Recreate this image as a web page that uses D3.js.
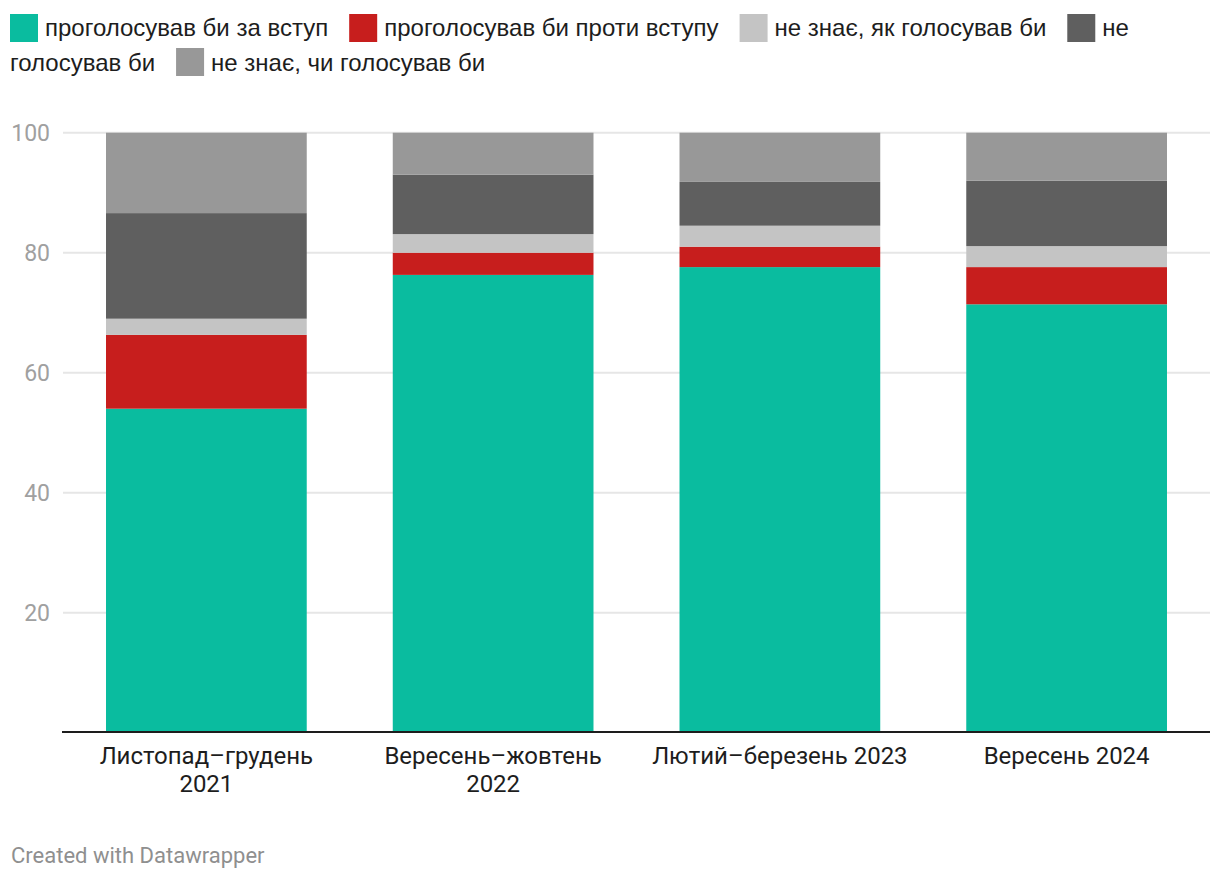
<!DOCTYPE html>
<html><head><meta charset="utf-8">
<script src="https://cdn.jsdelivr.net/npm/d3@7"></script>
<style>
html,body{margin:0;padding:0;background:#fff;}
svg{display:block;font-family:Roboto,"Noto Sans",sans-serif;}
</style></head>
<body>
<svg id="chart" width="1220" height="882"></svg>
<script>
const categories = [["Листопад–грудень","2021"],["Вересень–жовтень","2022"],["Лютий–березень 2023"],["Вересень 2024"]];
const seriesNames = ["проголосував би за вступ","проголосував би проти вступу","не знає, як голосував би","не голосував би","не знає, чи голосував би"];
const seriesColors = ["#0abc9f","#c71e1d","#c4c4c4","#5f5f5f","#989898"];
const forJoin = [54.0, 76.3, 77.6, 71.4];
const against = [12.3, 3.7, 3.4, 6.2];
const dontKnowHow = [2.7, 3.1, 3.5, 3.5];
const wouldNotVote = [17.6, 9.9, 7.3, 10.9];
const dontKnowIf = [13.4, 7.0, 8.2, 8.0];
const yTicks = [20, 40, 60, 80, 100];

const seriesValues = [forJoin, against, dontKnowHow, wouldNotVote, dontKnowIf];
const keys = seriesNames;
const rows = categories.map((c, i) => {
  const r = {cat: i};
  keys.forEach((k, j) => r[k] = seriesValues[j][i]);
  return r;
});

const svg = d3.select("#chart");
const x = d3.scaleBand().domain(d3.range(categories.length)).range([63, 1210]).paddingInner(0.3).paddingOuter(0.15);
const y = d3.scaleLinear().domain([0, 100]).range([732.7, 132.7]);

// gridlines
svg.append("g").selectAll("line").data(yTicks).join("line")
  .attr("x1", 63).attr("x2", 1210)
  .attr("y1", d => y(d)).attr("y2", d => y(d))
  .attr("stroke", "#e6e6e6").attr("stroke-width", 2);

svg.append("g").selectAll("text").data(yTicks).join("text")
  .attr("x", 50).attr("y", d => y(d)).attr("dy", "0.36em")
  .attr("text-anchor", "end").attr("fill", "#a0a0a0").attr("font-size", 23)
  .text(d => d);

// bars
const stacked = d3.stack().keys(keys)(rows);
svg.append("g").selectAll("g").data(stacked).join("g")
  .attr("fill", (d, i) => seriesColors[i])
  .selectAll("rect").data(d => d).join("rect")
  .attr("x", d => x(d.data.cat)).attr("width", x.bandwidth())
  .attr("y", d => y(d[1])).attr("height", d => y(d[0]) - y(d[1]));

// baseline
svg.append("line").attr("x1", 62).attr("x2", 1210).attr("y1", 732).attr("y2", 732)
  .attr("stroke", "#1d1d1d").attr("stroke-width", 2);

// x labels
const xl = svg.append("g").selectAll("text").data(categories).join("text")
  .attr("text-anchor", "middle").attr("fill", "#1d1d1d").attr("font-size", 24)
  .attr("x", (d, i) => x(i) + x.bandwidth() / 2).attr("y", 764);
xl.selectAll("tspan").data(d => d).join("tspan")
  .attr("x", function() { return d3.select(this.parentNode).attr("x"); })
  .attr("dy", (d, i) => i === 0 ? 0 : 28)
  .text(d => d);

// legend (flowing)
const leg = svg.append("g").attr("font-size", 24).attr("fill", "#1d1d1d")
  .attr("font-family", "'Liberation Sans', Arial, sans-serif");
const lines = [36, 71];
const swTop = [14, 48];
let lx = 10, line = 0;
function place(i, labelParts) {
  leg.append("rect").attr("x", lx).attr("y", swTop[line]).attr("width", 28).attr("height", 28).attr("fill", seriesColors[i]);
  lx += 35;
  labelParts.forEach((part, k) => {
    if (k > 0) { line += 1; lx = 10; }
    const t = leg.append("text").attr("x", lx).attr("y", lines[line]).text(part);
    lx += t.node().getComputedTextLength();
  });
  lx += 21;
}
place(0, [seriesNames[0]]);
place(1, [seriesNames[1]]);
place(2, [seriesNames[2]]);
place(3, ["не", "голосував би"]);
place(4, [seriesNames[4]]);

// footer
svg.append("text").attr("x", 11).attr("y", 863).attr("fill", "#8f8f8f").attr("font-size", 22)
  .text("Created with Datawrapper");
</script>
</body></html>
